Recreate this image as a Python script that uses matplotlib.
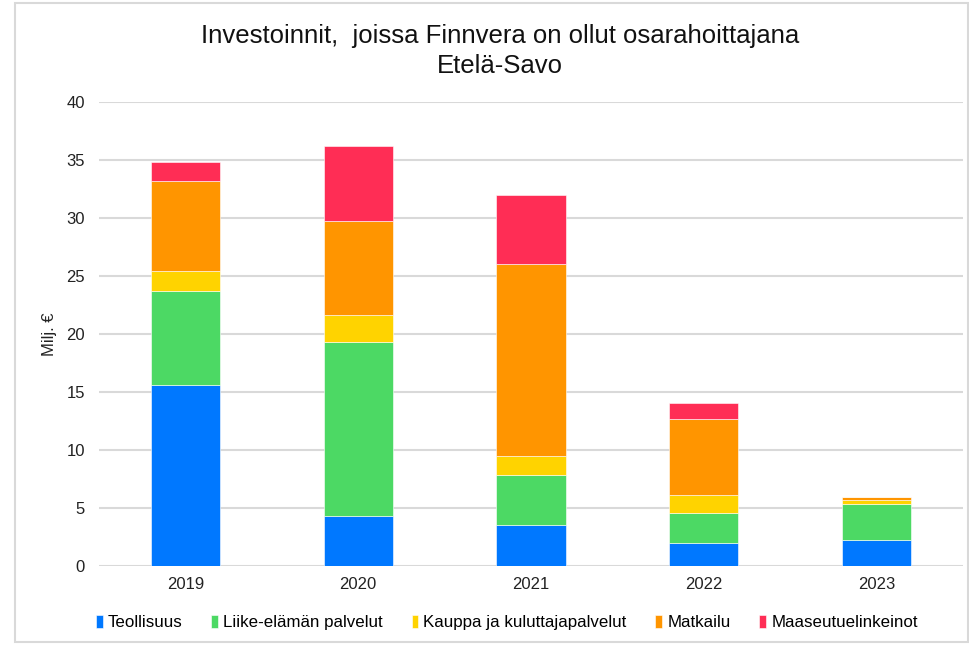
import numpy as np
import matplotlib
matplotlib.use('Agg')
import matplotlib.pyplot as plt
from matplotlib.patches import Rectangle

plt.rcParams['font.family'] = ['Liberation Sans', 'DejaVu Sans']

# Data (milj. €)
years = ['2019', '2020', '2021', '2022', '2023']
series_names = ['Teollisuus', 'Liike-elämän palvelut', 'Kauppa ja kuluttajapalvelut',
                'Matkailu', 'Maaseutuelinkeinot']
teollisuus = [15.6, 4.3, 3.55, 2.0, 2.28]
liike = [8.1, 15.0, 4.25, 2.55, 3.02]
kauppa = [1.7, 2.35, 1.65, 1.55, 0.43]
matkailu = [7.8, 8.05, 16.55, 6.55, 0.2]
maaseutu = [1.6, 6.5, 6.0, 1.4, 0.05]
colors = ['#0078FF', '#4CD964', '#FFD300', '#FF9500', '#FF2D55']


fig = plt.figure(figsize=(9.69, 6.45), dpi=100)
ax = fig.add_axes([0.102, 0.1225, 0.892, 0.7195])

x = np.arange(len(years))
bottom = np.zeros(len(years))
for name, vals, c in zip(series_names, [teollisuus, liike, kauppa, matkailu, maaseutu], colors):
    ax.bar(x, vals, 0.4, bottom=bottom, color=c, label=name,
           edgecolor='white', linewidth=0.4, zorder=3)
    bottom += np.array(vals)

ax.set_xlim(-0.5, len(years) - 0.5)
ax.set_ylim(0, 40)
ax.set_yticks(np.arange(0, 41, 5))
ax.set_xticks(x)
ax.set_xticklabels(years)
ax.tick_params(axis='both', length=0, labelsize=12, colors='#222222', pad=8)
ax.tick_params(axis='y', pad=10)
ax.grid(axis='y', color='#d9d9d9', linewidth=1.5, zorder=0)
for s in ax.spines.values():
    s.set_visible(False)

ax.set_ylabel('Milj. €', fontsize=12, color='#222222', labelpad=7)

fig.text(0.516, 0.921, 'Investoinnit,  joissa Finnvera on ollut osarahoittajana\nEtelä-Savo',
         ha='center', va='center', fontsize=18.5, color='#111111', linespacing=1.32)

handles, labels = ax.get_legend_handles_labels()
fig.legend(handles, labels, loc='center', bbox_to_anchor=(0.523, 0.035), ncol=5,
           frameon=False, fontsize=12.2, handlelength=0.4, handleheight=0.8,
           handletextpad=0.3, columnspacing=1.7)

# outer chart frame
fig.patches.append(Rectangle((15 / 969, 3 / 645), 953 / 969, 639 / 645,
                             transform=fig.transFigure, fill=False,
                             edgecolor='#d9d9d9', linewidth=1.5))

fig.savefig('out.png', dpi=100)
